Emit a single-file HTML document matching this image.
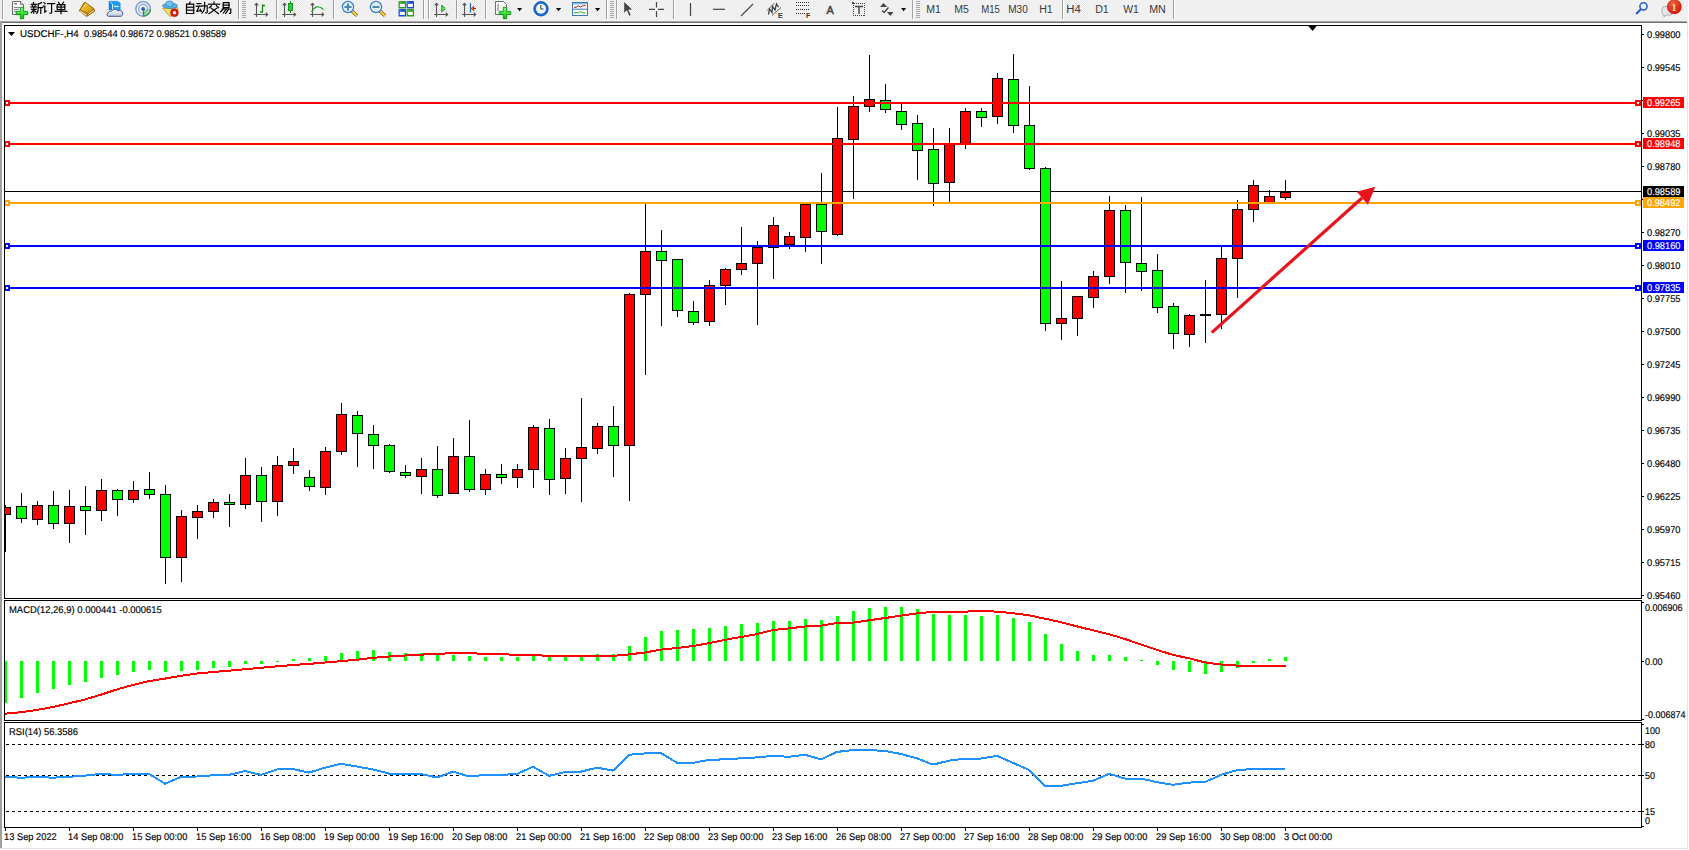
<!DOCTYPE html>
<html><head><meta charset="utf-8"><title>MT4 USDCHF H4</title>
<style>html,body{margin:0;padding:0;background:#fff;overflow:hidden}svg{display:block}</style>
</head><body>
<svg width="1689" height="850" viewBox="0 0 1689 850" shape-rendering="crispEdges">
<defs>
<clipPath id="cMain"><rect x="5" y="26" width="1636" height="572"/></clipPath>
<clipPath id="cMacd"><rect x="5" y="601" width="1636" height="119"/></clipPath>
<clipPath id="cRsi"><rect x="5" y="723" width="1636" height="104"/></clipPath>
</defs>
<rect x="0" y="0" width="1689" height="850" fill="#ffffff"/>
<rect x="0" y="0" width="1688" height="21" fill="#f0f0f0"/>
<rect x="0" y="21" width="1688" height="1" fill="#a8a8a8"/>
<rect x="0" y="22" width="1688" height="1" fill="#6e6e6e"/>
<rect x="0" y="21" width="2" height="828" fill="#a0a0a0"/>
<rect x="1687" y="21" width="1" height="828" fill="#e3e3e3"/>
<rect x="0" y="848" width="1688" height="1" fill="#e3e3e3"/>
<rect x="4" y="25" width="1638" height="1" fill="#000"/>
<rect x="4" y="598" width="1638" height="1" fill="#000"/>
<rect x="4" y="25" width="1" height="574" fill="#000"/>
<rect x="1641" y="25" width="1" height="574" fill="#000"/>
<rect x="4" y="600" width="1638" height="1" fill="#000"/>
<rect x="4" y="720" width="1638" height="1" fill="#000"/>
<rect x="4" y="600" width="1" height="121" fill="#000"/>
<rect x="1641" y="600" width="1" height="121" fill="#000"/>
<rect x="4" y="722" width="1638" height="1" fill="#000"/>
<rect x="4" y="827" width="1638" height="1" fill="#000"/>
<rect x="4" y="722" width="1" height="106" fill="#000"/>
<rect x="1641" y="722" width="1" height="106" fill="#000"/>
<g clip-path="url(#cMain)">
<rect x="5" y="191" width="1636" height="1" fill="#000"/>
<rect x="5" y="505" width="1" height="47" fill="#000"/>
<rect x="0" y="507" width="11" height="8" fill="#000"/>
<rect x="1" y="508" width="9" height="6" fill="#ff0000"/>
<rect x="21" y="493" width="1" height="30" fill="#000"/>
<rect x="16" y="506" width="11" height="13" fill="#000"/>
<rect x="17" y="507" width="9" height="11" fill="#00ff00"/>
<rect x="37" y="501" width="1" height="24" fill="#000"/>
<rect x="32" y="505" width="11" height="15" fill="#000"/>
<rect x="33" y="506" width="9" height="13" fill="#ff0000"/>
<rect x="53" y="491" width="1" height="38" fill="#000"/>
<rect x="48" y="505" width="11" height="19" fill="#000"/>
<rect x="49" y="506" width="9" height="17" fill="#00ff00"/>
<rect x="69" y="490" width="1" height="53" fill="#000"/>
<rect x="64" y="506" width="11" height="18" fill="#000"/>
<rect x="65" y="507" width="9" height="16" fill="#ff0000"/>
<rect x="85" y="486" width="1" height="49" fill="#000"/>
<rect x="80" y="506" width="11" height="5" fill="#000"/>
<rect x="81" y="507" width="9" height="3" fill="#00ff00"/>
<rect x="101" y="479" width="1" height="42" fill="#000"/>
<rect x="96" y="490" width="11" height="21" fill="#000"/>
<rect x="97" y="491" width="9" height="19" fill="#ff0000"/>
<rect x="117" y="489" width="1" height="27" fill="#000"/>
<rect x="112" y="490" width="11" height="10" fill="#000"/>
<rect x="113" y="491" width="9" height="8" fill="#00ff00"/>
<rect x="133" y="481" width="1" height="22" fill="#000"/>
<rect x="128" y="490" width="11" height="10" fill="#000"/>
<rect x="129" y="491" width="9" height="8" fill="#ff0000"/>
<rect x="149" y="472" width="1" height="27" fill="#000"/>
<rect x="144" y="489" width="11" height="6" fill="#000"/>
<rect x="145" y="490" width="9" height="4" fill="#00ff00"/>
<rect x="165" y="485" width="1" height="99" fill="#000"/>
<rect x="160" y="494" width="11" height="64" fill="#000"/>
<rect x="161" y="495" width="9" height="62" fill="#00ff00"/>
<rect x="181" y="510" width="1" height="72" fill="#000"/>
<rect x="176" y="516" width="11" height="42" fill="#000"/>
<rect x="177" y="517" width="9" height="40" fill="#ff0000"/>
<rect x="197" y="505" width="1" height="34" fill="#000"/>
<rect x="192" y="511" width="11" height="7" fill="#000"/>
<rect x="193" y="512" width="9" height="5" fill="#ff0000"/>
<rect x="213" y="499" width="1" height="19" fill="#000"/>
<rect x="208" y="502" width="11" height="10" fill="#000"/>
<rect x="209" y="503" width="9" height="8" fill="#ff0000"/>
<rect x="229" y="494" width="1" height="33" fill="#000"/>
<rect x="224" y="502" width="11" height="3" fill="#000"/>
<rect x="225" y="503" width="9" height="1" fill="#00ff00"/>
<rect x="245" y="458" width="1" height="51" fill="#000"/>
<rect x="240" y="475" width="11" height="30" fill="#000"/>
<rect x="241" y="476" width="9" height="28" fill="#ff0000"/>
<rect x="261" y="467" width="1" height="55" fill="#000"/>
<rect x="256" y="475" width="11" height="27" fill="#000"/>
<rect x="257" y="476" width="9" height="25" fill="#00ff00"/>
<rect x="277" y="456" width="1" height="60" fill="#000"/>
<rect x="272" y="465" width="11" height="37" fill="#000"/>
<rect x="273" y="466" width="9" height="35" fill="#ff0000"/>
<rect x="293" y="448" width="1" height="26" fill="#000"/>
<rect x="288" y="461" width="11" height="5" fill="#000"/>
<rect x="289" y="462" width="9" height="3" fill="#ff0000"/>
<rect x="309" y="470" width="1" height="21" fill="#000"/>
<rect x="304" y="477" width="11" height="10" fill="#000"/>
<rect x="305" y="478" width="9" height="8" fill="#00ff00"/>
<rect x="325" y="447" width="1" height="48" fill="#000"/>
<rect x="320" y="451" width="11" height="37" fill="#000"/>
<rect x="321" y="452" width="9" height="35" fill="#ff0000"/>
<rect x="341" y="403" width="1" height="52" fill="#000"/>
<rect x="336" y="414" width="11" height="38" fill="#000"/>
<rect x="337" y="415" width="9" height="36" fill="#ff0000"/>
<rect x="357" y="411" width="1" height="56" fill="#000"/>
<rect x="352" y="415" width="11" height="19" fill="#000"/>
<rect x="353" y="416" width="9" height="17" fill="#00ff00"/>
<rect x="373" y="425" width="1" height="44" fill="#000"/>
<rect x="368" y="434" width="11" height="12" fill="#000"/>
<rect x="369" y="435" width="9" height="10" fill="#00ff00"/>
<rect x="389" y="444" width="1" height="29" fill="#000"/>
<rect x="384" y="445" width="11" height="27" fill="#000"/>
<rect x="385" y="446" width="9" height="25" fill="#00ff00"/>
<rect x="405" y="465" width="1" height="13" fill="#000"/>
<rect x="400" y="472" width="11" height="4" fill="#000"/>
<rect x="401" y="473" width="9" height="2" fill="#00ff00"/>
<rect x="421" y="458" width="1" height="36" fill="#000"/>
<rect x="416" y="469" width="11" height="8" fill="#000"/>
<rect x="417" y="470" width="9" height="6" fill="#ff0000"/>
<rect x="437" y="446" width="1" height="52" fill="#000"/>
<rect x="432" y="469" width="11" height="27" fill="#000"/>
<rect x="433" y="470" width="9" height="25" fill="#00ff00"/>
<rect x="453" y="438" width="1" height="56" fill="#000"/>
<rect x="448" y="456" width="11" height="38" fill="#000"/>
<rect x="449" y="457" width="9" height="36" fill="#ff0000"/>
<rect x="469" y="420" width="1" height="72" fill="#000"/>
<rect x="464" y="456" width="11" height="34" fill="#000"/>
<rect x="465" y="457" width="9" height="32" fill="#00ff00"/>
<rect x="485" y="469" width="1" height="26" fill="#000"/>
<rect x="480" y="474" width="11" height="16" fill="#000"/>
<rect x="481" y="475" width="9" height="14" fill="#ff0000"/>
<rect x="501" y="464" width="1" height="20" fill="#000"/>
<rect x="496" y="474" width="11" height="4" fill="#000"/>
<rect x="497" y="475" width="9" height="2" fill="#00ff00"/>
<rect x="517" y="464" width="1" height="24" fill="#000"/>
<rect x="512" y="469" width="11" height="9" fill="#000"/>
<rect x="513" y="470" width="9" height="7" fill="#ff0000"/>
<rect x="533" y="425" width="1" height="63" fill="#000"/>
<rect x="528" y="427" width="11" height="43" fill="#000"/>
<rect x="529" y="428" width="9" height="41" fill="#ff0000"/>
<rect x="549" y="419" width="1" height="76" fill="#000"/>
<rect x="544" y="428" width="11" height="52" fill="#000"/>
<rect x="545" y="429" width="9" height="50" fill="#00ff00"/>
<rect x="565" y="448" width="1" height="46" fill="#000"/>
<rect x="560" y="458" width="11" height="21" fill="#000"/>
<rect x="561" y="459" width="9" height="19" fill="#ff0000"/>
<rect x="581" y="398" width="1" height="104" fill="#000"/>
<rect x="576" y="447" width="11" height="12" fill="#000"/>
<rect x="577" y="448" width="9" height="10" fill="#ff0000"/>
<rect x="597" y="423" width="1" height="31" fill="#000"/>
<rect x="592" y="426" width="11" height="23" fill="#000"/>
<rect x="593" y="427" width="9" height="21" fill="#ff0000"/>
<rect x="613" y="406" width="1" height="71" fill="#000"/>
<rect x="608" y="426" width="11" height="20" fill="#000"/>
<rect x="609" y="427" width="9" height="18" fill="#00ff00"/>
<rect x="629" y="293" width="1" height="208" fill="#000"/>
<rect x="624" y="294" width="11" height="152" fill="#000"/>
<rect x="625" y="295" width="9" height="150" fill="#ff0000"/>
<rect x="645" y="204" width="1" height="171" fill="#000"/>
<rect x="640" y="251" width="11" height="44" fill="#000"/>
<rect x="641" y="252" width="9" height="42" fill="#ff0000"/>
<rect x="661" y="230" width="1" height="96" fill="#000"/>
<rect x="656" y="251" width="11" height="10" fill="#000"/>
<rect x="657" y="252" width="9" height="8" fill="#00ff00"/>
<rect x="677" y="259" width="1" height="58" fill="#000"/>
<rect x="672" y="259" width="11" height="52" fill="#000"/>
<rect x="673" y="260" width="9" height="50" fill="#00ff00"/>
<rect x="693" y="301" width="1" height="24" fill="#000"/>
<rect x="688" y="311" width="11" height="12" fill="#000"/>
<rect x="689" y="312" width="9" height="10" fill="#00ff00"/>
<rect x="709" y="280" width="1" height="46" fill="#000"/>
<rect x="704" y="285" width="11" height="37" fill="#000"/>
<rect x="705" y="286" width="9" height="35" fill="#ff0000"/>
<rect x="725" y="268" width="1" height="37" fill="#000"/>
<rect x="720" y="269" width="11" height="17" fill="#000"/>
<rect x="721" y="270" width="9" height="15" fill="#ff0000"/>
<rect x="741" y="227" width="1" height="48" fill="#000"/>
<rect x="736" y="263" width="11" height="7" fill="#000"/>
<rect x="737" y="264" width="9" height="5" fill="#ff0000"/>
<rect x="757" y="241" width="1" height="84" fill="#000"/>
<rect x="752" y="247" width="11" height="17" fill="#000"/>
<rect x="753" y="248" width="9" height="15" fill="#ff0000"/>
<rect x="773" y="217" width="1" height="62" fill="#000"/>
<rect x="768" y="225" width="11" height="23" fill="#000"/>
<rect x="769" y="226" width="9" height="21" fill="#ff0000"/>
<rect x="789" y="232" width="1" height="17" fill="#000"/>
<rect x="784" y="236" width="11" height="9" fill="#000"/>
<rect x="785" y="237" width="9" height="7" fill="#ff0000"/>
<rect x="805" y="204" width="1" height="48" fill="#000"/>
<rect x="800" y="204" width="11" height="34" fill="#000"/>
<rect x="801" y="205" width="9" height="32" fill="#ff0000"/>
<rect x="821" y="173" width="1" height="91" fill="#000"/>
<rect x="816" y="204" width="11" height="28" fill="#000"/>
<rect x="817" y="205" width="9" height="26" fill="#00ff00"/>
<rect x="837" y="107" width="1" height="129" fill="#000"/>
<rect x="832" y="138" width="11" height="97" fill="#000"/>
<rect x="833" y="139" width="9" height="95" fill="#ff0000"/>
<rect x="853" y="96" width="1" height="103" fill="#000"/>
<rect x="848" y="106" width="11" height="34" fill="#000"/>
<rect x="849" y="107" width="9" height="32" fill="#ff0000"/>
<rect x="869" y="55" width="1" height="57" fill="#000"/>
<rect x="864" y="99" width="11" height="8" fill="#000"/>
<rect x="865" y="100" width="9" height="6" fill="#ff0000"/>
<rect x="885" y="84" width="1" height="29" fill="#000"/>
<rect x="880" y="100" width="11" height="10" fill="#000"/>
<rect x="881" y="101" width="9" height="8" fill="#00ff00"/>
<rect x="901" y="104" width="1" height="26" fill="#000"/>
<rect x="896" y="111" width="11" height="14" fill="#000"/>
<rect x="897" y="112" width="9" height="12" fill="#00ff00"/>
<rect x="917" y="115" width="1" height="65" fill="#000"/>
<rect x="912" y="123" width="11" height="28" fill="#000"/>
<rect x="913" y="124" width="9" height="26" fill="#00ff00"/>
<rect x="933" y="128" width="1" height="78" fill="#000"/>
<rect x="928" y="149" width="11" height="35" fill="#000"/>
<rect x="929" y="150" width="9" height="33" fill="#00ff00"/>
<rect x="949" y="128" width="1" height="75" fill="#000"/>
<rect x="944" y="144" width="11" height="39" fill="#000"/>
<rect x="945" y="145" width="9" height="37" fill="#ff0000"/>
<rect x="965" y="108" width="1" height="41" fill="#000"/>
<rect x="960" y="111" width="11" height="33" fill="#000"/>
<rect x="961" y="112" width="9" height="31" fill="#ff0000"/>
<rect x="981" y="108" width="1" height="19" fill="#000"/>
<rect x="976" y="111" width="11" height="7" fill="#000"/>
<rect x="977" y="112" width="9" height="5" fill="#00ff00"/>
<rect x="997" y="73" width="1" height="51" fill="#000"/>
<rect x="992" y="78" width="11" height="39" fill="#000"/>
<rect x="993" y="79" width="9" height="37" fill="#ff0000"/>
<rect x="1013" y="54" width="1" height="79" fill="#000"/>
<rect x="1008" y="79" width="11" height="47" fill="#000"/>
<rect x="1009" y="80" width="9" height="45" fill="#00ff00"/>
<rect x="1029" y="86" width="1" height="84" fill="#000"/>
<rect x="1024" y="125" width="11" height="44" fill="#000"/>
<rect x="1025" y="126" width="9" height="42" fill="#00ff00"/>
<rect x="1045" y="167" width="1" height="164" fill="#000"/>
<rect x="1040" y="168" width="11" height="156" fill="#000"/>
<rect x="1041" y="169" width="9" height="154" fill="#00ff00"/>
<rect x="1061" y="281" width="1" height="59" fill="#000"/>
<rect x="1056" y="318" width="11" height="6" fill="#000"/>
<rect x="1057" y="319" width="9" height="4" fill="#ff0000"/>
<rect x="1077" y="296" width="1" height="40" fill="#000"/>
<rect x="1072" y="296" width="11" height="23" fill="#000"/>
<rect x="1073" y="297" width="9" height="21" fill="#ff0000"/>
<rect x="1093" y="271" width="1" height="37" fill="#000"/>
<rect x="1088" y="276" width="11" height="22" fill="#000"/>
<rect x="1089" y="277" width="9" height="20" fill="#ff0000"/>
<rect x="1109" y="196" width="1" height="88" fill="#000"/>
<rect x="1104" y="210" width="11" height="67" fill="#000"/>
<rect x="1105" y="211" width="9" height="65" fill="#ff0000"/>
<rect x="1125" y="205" width="1" height="88" fill="#000"/>
<rect x="1120" y="210" width="11" height="53" fill="#000"/>
<rect x="1121" y="211" width="9" height="51" fill="#00ff00"/>
<rect x="1141" y="197" width="1" height="94" fill="#000"/>
<rect x="1136" y="263" width="11" height="9" fill="#000"/>
<rect x="1137" y="264" width="9" height="7" fill="#00ff00"/>
<rect x="1157" y="254" width="1" height="59" fill="#000"/>
<rect x="1152" y="270" width="11" height="38" fill="#000"/>
<rect x="1153" y="271" width="9" height="36" fill="#00ff00"/>
<rect x="1173" y="303" width="1" height="46" fill="#000"/>
<rect x="1168" y="306" width="11" height="28" fill="#000"/>
<rect x="1169" y="307" width="9" height="26" fill="#00ff00"/>
<rect x="1189" y="314" width="1" height="33" fill="#000"/>
<rect x="1184" y="315" width="11" height="20" fill="#000"/>
<rect x="1185" y="316" width="9" height="18" fill="#ff0000"/>
<rect x="1205" y="280" width="1" height="63" fill="#000"/>
<rect x="1200" y="314" width="11" height="2" fill="#000"/>
<rect x="1221" y="247" width="1" height="82" fill="#000"/>
<rect x="1216" y="258" width="11" height="57" fill="#000"/>
<rect x="1217" y="259" width="9" height="55" fill="#ff0000"/>
<rect x="1237" y="200" width="1" height="98" fill="#000"/>
<rect x="1232" y="209" width="11" height="50" fill="#000"/>
<rect x="1233" y="210" width="9" height="48" fill="#ff0000"/>
<rect x="1253" y="180" width="1" height="42" fill="#000"/>
<rect x="1248" y="185" width="11" height="25" fill="#000"/>
<rect x="1249" y="186" width="9" height="23" fill="#ff0000"/>
<rect x="1269" y="190" width="1" height="13" fill="#000"/>
<rect x="1264" y="196" width="11" height="7" fill="#000"/>
<rect x="1265" y="197" width="9" height="5" fill="#ff0000"/>
<rect x="1285" y="180" width="1" height="20" fill="#000"/>
<rect x="1280" y="192" width="11" height="6" fill="#000"/>
<rect x="1281" y="193" width="9" height="4" fill="#ff0000"/>
<rect x="5" y="102" width="1636" height="2" fill="#ff0000"/>
<rect x="4" y="100" width="6" height="6" fill="#ff0000"/>
<rect x="6" y="102" width="2" height="2" fill="#fff"/>
<rect x="1635" y="100" width="6" height="6" fill="#ff0000"/>
<rect x="1637" y="102" width="2" height="2" fill="#fff"/>
<rect x="5" y="143" width="1636" height="2" fill="#ff0000"/>
<rect x="4" y="141" width="6" height="6" fill="#ff0000"/>
<rect x="6" y="143" width="2" height="2" fill="#fff"/>
<rect x="1635" y="141" width="6" height="6" fill="#ff0000"/>
<rect x="1637" y="143" width="2" height="2" fill="#fff"/>
<rect x="5" y="202" width="1636" height="2" fill="#ffa500"/>
<rect x="4" y="200" width="6" height="6" fill="#ffa500"/>
<rect x="6" y="202" width="2" height="2" fill="#fff"/>
<rect x="1635" y="200" width="6" height="6" fill="#ffa500"/>
<rect x="1637" y="202" width="2" height="2" fill="#fff"/>
<rect x="5" y="245" width="1636" height="2" fill="#0000ff"/>
<rect x="4" y="243" width="6" height="6" fill="#0000ff"/>
<rect x="6" y="245" width="2" height="2" fill="#fff"/>
<rect x="1635" y="243" width="6" height="6" fill="#0000ff"/>
<rect x="1637" y="245" width="2" height="2" fill="#fff"/>
<rect x="5" y="287" width="1636" height="2" fill="#0000ff"/>
<rect x="4" y="285" width="6" height="6" fill="#0000ff"/>
<rect x="6" y="287" width="2" height="2" fill="#fff"/>
<rect x="1635" y="285" width="6" height="6" fill="#0000ff"/>
<rect x="1637" y="287" width="2" height="2" fill="#fff"/>
<g shape-rendering="geometricPrecision">
<line x1="1211.7" y1="332.6" x2="1362" y2="198" stroke="#e8141c" stroke-width="3.2" stroke-linecap="butt"/>
<polygon points="1375.3,186.8 1356.8,191.8 1367.9,204.7" fill="#e8141c"/>
</g>
</g>
<polygon points="1307.5,25 1317.5,25 1312.5,31" fill="#000" shape-rendering="geometricPrecision"/>
<polygon points="8,32 15,32 11.5,36" fill="#000" shape-rendering="geometricPrecision"/>
<text transform="translate(20,37) scale(0.9898,1)" text-rendering="geometricPrecision" font-family="Liberation Sans, sans-serif" font-size="9.8" fill="#000" stroke="#000" stroke-width="0.15" >USDCHF-,H4</text>
<text transform="translate(84,37) scale(0.949,1)" text-rendering="geometricPrecision" font-family="Liberation Sans, sans-serif" font-size="9.8" fill="#000" stroke="#000" stroke-width="0.15" >0.98544 0.98672 0.98521 0.98589</text>
<rect x="1642" y="34" width="2" height="1" fill="#000"/>
<text transform="translate(1647,38) scale(0.9439,1)" text-rendering="geometricPrecision" font-family="Liberation Sans, sans-serif" font-size="9.8" fill="#000" stroke="#000" stroke-width="0.15" >0.99800</text>
<rect x="1642" y="67" width="2" height="1" fill="#000"/>
<text transform="translate(1647,71) scale(0.9439,1)" text-rendering="geometricPrecision" font-family="Liberation Sans, sans-serif" font-size="9.8" fill="#000" stroke="#000" stroke-width="0.15" >0.99545</text>
<rect x="1642" y="100" width="2" height="1" fill="#000"/>
<rect x="1642" y="133" width="2" height="1" fill="#000"/>
<text transform="translate(1647,137) scale(0.9439,1)" text-rendering="geometricPrecision" font-family="Liberation Sans, sans-serif" font-size="9.8" fill="#000" stroke="#000" stroke-width="0.15" >0.99035</text>
<rect x="1642" y="166" width="2" height="1" fill="#000"/>
<text transform="translate(1647,170) scale(0.9439,1)" text-rendering="geometricPrecision" font-family="Liberation Sans, sans-serif" font-size="9.8" fill="#000" stroke="#000" stroke-width="0.15" >0.98780</text>
<rect x="1642" y="199" width="2" height="1" fill="#000"/>
<rect x="1642" y="232" width="2" height="1" fill="#000"/>
<text transform="translate(1647,236) scale(0.9439,1)" text-rendering="geometricPrecision" font-family="Liberation Sans, sans-serif" font-size="9.8" fill="#000" stroke="#000" stroke-width="0.15" >0.98270</text>
<rect x="1642" y="265" width="2" height="1" fill="#000"/>
<text transform="translate(1647,269) scale(0.9439,1)" text-rendering="geometricPrecision" font-family="Liberation Sans, sans-serif" font-size="9.8" fill="#000" stroke="#000" stroke-width="0.15" >0.98010</text>
<rect x="1642" y="298" width="2" height="1" fill="#000"/>
<text transform="translate(1647,302) scale(0.9439,1)" text-rendering="geometricPrecision" font-family="Liberation Sans, sans-serif" font-size="9.8" fill="#000" stroke="#000" stroke-width="0.15" >0.97755</text>
<rect x="1642" y="331" width="2" height="1" fill="#000"/>
<text transform="translate(1647,335) scale(0.9439,1)" text-rendering="geometricPrecision" font-family="Liberation Sans, sans-serif" font-size="9.8" fill="#000" stroke="#000" stroke-width="0.15" >0.97500</text>
<rect x="1642" y="364" width="2" height="1" fill="#000"/>
<text transform="translate(1647,368) scale(0.9439,1)" text-rendering="geometricPrecision" font-family="Liberation Sans, sans-serif" font-size="9.8" fill="#000" stroke="#000" stroke-width="0.15" >0.97245</text>
<rect x="1642" y="397" width="2" height="1" fill="#000"/>
<text transform="translate(1647,401) scale(0.9439,1)" text-rendering="geometricPrecision" font-family="Liberation Sans, sans-serif" font-size="9.8" fill="#000" stroke="#000" stroke-width="0.15" >0.96990</text>
<rect x="1642" y="430" width="2" height="1" fill="#000"/>
<text transform="translate(1647,434) scale(0.9439,1)" text-rendering="geometricPrecision" font-family="Liberation Sans, sans-serif" font-size="9.8" fill="#000" stroke="#000" stroke-width="0.15" >0.96735</text>
<rect x="1642" y="463" width="2" height="1" fill="#000"/>
<text transform="translate(1647,467) scale(0.9439,1)" text-rendering="geometricPrecision" font-family="Liberation Sans, sans-serif" font-size="9.8" fill="#000" stroke="#000" stroke-width="0.15" >0.96480</text>
<rect x="1642" y="496" width="2" height="1" fill="#000"/>
<text transform="translate(1647,500) scale(0.9439,1)" text-rendering="geometricPrecision" font-family="Liberation Sans, sans-serif" font-size="9.8" fill="#000" stroke="#000" stroke-width="0.15" >0.96225</text>
<rect x="1642" y="529" width="2" height="1" fill="#000"/>
<text transform="translate(1647,533) scale(0.9439,1)" text-rendering="geometricPrecision" font-family="Liberation Sans, sans-serif" font-size="9.8" fill="#000" stroke="#000" stroke-width="0.15" >0.95970</text>
<rect x="1642" y="562" width="2" height="1" fill="#000"/>
<text transform="translate(1647,566) scale(0.9439,1)" text-rendering="geometricPrecision" font-family="Liberation Sans, sans-serif" font-size="9.8" fill="#000" stroke="#000" stroke-width="0.15" >0.95715</text>
<rect x="1642" y="595" width="2" height="1" fill="#000"/>
<text transform="translate(1647,599) scale(0.9439,1)" text-rendering="geometricPrecision" font-family="Liberation Sans, sans-serif" font-size="9.8" fill="#000" stroke="#000" stroke-width="0.15" >0.95460</text>
<rect x="1643" y="97" width="41" height="11" fill="#ff0000"/>
<text transform="translate(1647,106) scale(0.9439,1)" text-rendering="geometricPrecision" font-family="Liberation Sans, sans-serif" font-size="9.8" fill="#fff" stroke="#fff" stroke-width="0.15" >0.99265</text>
<rect x="1643" y="138" width="41" height="11" fill="#ff0000"/>
<text transform="translate(1647,147) scale(0.9439,1)" text-rendering="geometricPrecision" font-family="Liberation Sans, sans-serif" font-size="9.8" fill="#fff" stroke="#fff" stroke-width="0.15" >0.98948</text>
<rect x="1643" y="186" width="41" height="11" fill="#000000"/>
<text transform="translate(1647,195) scale(0.9439,1)" text-rendering="geometricPrecision" font-family="Liberation Sans, sans-serif" font-size="9.8" fill="#fff" stroke="#fff" stroke-width="0.15" >0.98589</text>
<rect x="1643" y="197" width="41" height="11" fill="#ffa500"/>
<text transform="translate(1647,206) scale(0.9439,1)" text-rendering="geometricPrecision" font-family="Liberation Sans, sans-serif" font-size="9.8" fill="#fff" stroke="#fff" stroke-width="0.15" >0.98492</text>
<rect x="1643" y="240" width="41" height="11" fill="#0000ff"/>
<text transform="translate(1647,249) scale(0.9439,1)" text-rendering="geometricPrecision" font-family="Liberation Sans, sans-serif" font-size="9.8" fill="#fff" stroke="#fff" stroke-width="0.15" >0.98160</text>
<rect x="1643" y="282" width="41" height="11" fill="#0000ff"/>
<text transform="translate(1647,291) scale(0.9439,1)" text-rendering="geometricPrecision" font-family="Liberation Sans, sans-serif" font-size="9.8" fill="#fff" stroke="#fff" stroke-width="0.15" >0.97835</text>
<g clip-path="url(#cMacd)">
<rect x="4" y="661" width="3" height="42" fill="#00ff00"/>
<rect x="20" y="661" width="3" height="37" fill="#00ff00"/>
<rect x="36" y="661" width="3" height="32" fill="#00ff00"/>
<rect x="52" y="661" width="3" height="28" fill="#00ff00"/>
<rect x="68" y="661" width="3" height="24" fill="#00ff00"/>
<rect x="84" y="661" width="3" height="21" fill="#00ff00"/>
<rect x="100" y="661" width="3" height="17" fill="#00ff00"/>
<rect x="116" y="661" width="3" height="14" fill="#00ff00"/>
<rect x="132" y="661" width="3" height="11" fill="#00ff00"/>
<rect x="148" y="661" width="3" height="9" fill="#00ff00"/>
<rect x="164" y="661" width="3" height="11" fill="#00ff00"/>
<rect x="180" y="661" width="3" height="10" fill="#00ff00"/>
<rect x="196" y="661" width="3" height="9" fill="#00ff00"/>
<rect x="212" y="661" width="3" height="7" fill="#00ff00"/>
<rect x="228" y="661" width="3" height="6" fill="#00ff00"/>
<rect x="244" y="661" width="3" height="3" fill="#00ff00"/>
<rect x="260" y="661" width="3" height="3" fill="#00ff00"/>
<rect x="276" y="661" width="3" height="1" fill="#00ff00"/>
<rect x="292" y="659" width="3" height="2" fill="#00ff00"/>
<rect x="308" y="658" width="3" height="3" fill="#00ff00"/>
<rect x="324" y="656" width="3" height="5" fill="#00ff00"/>
<rect x="340" y="653" width="3" height="8" fill="#00ff00"/>
<rect x="356" y="651" width="3" height="10" fill="#00ff00"/>
<rect x="372" y="650" width="3" height="11" fill="#00ff00"/>
<rect x="388" y="652" width="3" height="9" fill="#00ff00"/>
<rect x="404" y="653" width="3" height="8" fill="#00ff00"/>
<rect x="420" y="653" width="3" height="8" fill="#00ff00"/>
<rect x="436" y="655" width="3" height="6" fill="#00ff00"/>
<rect x="452" y="655" width="3" height="6" fill="#00ff00"/>
<rect x="468" y="656" width="3" height="5" fill="#00ff00"/>
<rect x="484" y="657" width="3" height="4" fill="#00ff00"/>
<rect x="500" y="657" width="3" height="4" fill="#00ff00"/>
<rect x="516" y="657" width="3" height="4" fill="#00ff00"/>
<rect x="532" y="655" width="3" height="6" fill="#00ff00"/>
<rect x="548" y="656" width="3" height="5" fill="#00ff00"/>
<rect x="564" y="656" width="3" height="5" fill="#00ff00"/>
<rect x="580" y="656" width="3" height="5" fill="#00ff00"/>
<rect x="596" y="654" width="3" height="7" fill="#00ff00"/>
<rect x="612" y="654" width="3" height="7" fill="#00ff00"/>
<rect x="628" y="646" width="3" height="15" fill="#00ff00"/>
<rect x="644" y="637" width="3" height="24" fill="#00ff00"/>
<rect x="660" y="631" width="3" height="30" fill="#00ff00"/>
<rect x="676" y="630" width="3" height="31" fill="#00ff00"/>
<rect x="692" y="629" width="3" height="32" fill="#00ff00"/>
<rect x="708" y="628" width="3" height="33" fill="#00ff00"/>
<rect x="724" y="626" width="3" height="35" fill="#00ff00"/>
<rect x="740" y="624" width="3" height="37" fill="#00ff00"/>
<rect x="756" y="623" width="3" height="38" fill="#00ff00"/>
<rect x="772" y="621" width="3" height="40" fill="#00ff00"/>
<rect x="788" y="621" width="3" height="40" fill="#00ff00"/>
<rect x="804" y="619" width="3" height="42" fill="#00ff00"/>
<rect x="820" y="620" width="3" height="41" fill="#00ff00"/>
<rect x="836" y="616" width="3" height="45" fill="#00ff00"/>
<rect x="852" y="611" width="3" height="50" fill="#00ff00"/>
<rect x="868" y="608" width="3" height="53" fill="#00ff00"/>
<rect x="884" y="607" width="3" height="54" fill="#00ff00"/>
<rect x="900" y="607" width="3" height="54" fill="#00ff00"/>
<rect x="916" y="609" width="3" height="52" fill="#00ff00"/>
<rect x="932" y="614" width="3" height="47" fill="#00ff00"/>
<rect x="948" y="615" width="3" height="46" fill="#00ff00"/>
<rect x="964" y="615" width="3" height="46" fill="#00ff00"/>
<rect x="980" y="616" width="3" height="45" fill="#00ff00"/>
<rect x="996" y="615" width="3" height="46" fill="#00ff00"/>
<rect x="1012" y="618" width="3" height="43" fill="#00ff00"/>
<rect x="1028" y="622" width="3" height="39" fill="#00ff00"/>
<rect x="1044" y="634" width="3" height="27" fill="#00ff00"/>
<rect x="1060" y="644" width="3" height="17" fill="#00ff00"/>
<rect x="1076" y="651" width="3" height="10" fill="#00ff00"/>
<rect x="1092" y="655" width="3" height="6" fill="#00ff00"/>
<rect x="1108" y="655" width="3" height="6" fill="#00ff00"/>
<rect x="1124" y="657" width="3" height="4" fill="#00ff00"/>
<rect x="1140" y="660" width="3" height="1" fill="#00ff00"/>
<rect x="1156" y="661" width="3" height="4" fill="#00ff00"/>
<rect x="1172" y="661" width="3" height="9" fill="#00ff00"/>
<rect x="1188" y="661" width="3" height="11" fill="#00ff00"/>
<rect x="1204" y="661" width="3" height="13" fill="#00ff00"/>
<rect x="1220" y="661" width="3" height="11" fill="#00ff00"/>
<rect x="1236" y="661" width="3" height="7" fill="#00ff00"/>
<rect x="1252" y="661" width="3" height="2" fill="#00ff00"/>
<rect x="1268" y="659" width="3" height="2" fill="#00ff00"/>
<rect x="1284" y="657" width="3" height="4" fill="#00ff00"/>
<polyline points="5,713.7 21,712.2 37,709.9 53,707 69,703.3 85,699.5 101,694.7 117,689.4 133,684.9 149,681.1 165,678.6 181,675.8 197,673.5 213,672 229,670.7 245,669.2 261,667.8 277,666.3 293,665 309,663.9 325,662.5 341,661.2 357,659.7 373,657.8 389,656.5 405,655.5 421,654.6 437,654 453,653 469,653 485,654 501,654 517,655 533,655 549,655.9 565,655.9 581,655.9 597,655.9 613,655.9 629,654.4 645,652.5 661,649.6 677,648 693,646 709,643.2 725,639.8 741,637 757,634.1 773,630 789,628.4 805,626.5 821,625.6 837,623.1 853,622.7 869,620.3 885,618 901,615.7 917,613.3 933,611.9 949,611.9 965,611.7 981,610.8 997,611.7 1013,613.2 1029,615.3 1045,618.7 1061,622.2 1077,626.4 1093,630.3 1109,634.2 1125,639 1141,644.5 1157,649.8 1173,654.9 1189,658.3 1205,662.4 1221,664.5 1237,665.6 1253,666.1 1269,666.1 1286,666.1" fill="none" stroke="#ff0000" stroke-width="2" shape-rendering="crispEdges"/>
</g>
<text transform="translate(9,613) scale(0.9643,1)" text-rendering="geometricPrecision" font-family="Liberation Sans, sans-serif" font-size="9.8" fill="#000" stroke="#000" stroke-width="0.15" >MACD(12,26,9) 0.000441 -0.000615</text>
<rect x="1642" y="602" width="2" height="1" fill="#000"/>
<rect x="1642" y="661" width="2" height="1" fill="#000"/>
<rect x="1642" y="719" width="2" height="1" fill="#000"/>
<text transform="translate(1645,611) scale(0.9184,1)" text-rendering="geometricPrecision" font-family="Liberation Sans, sans-serif" font-size="9.8" fill="#000" stroke="#000" stroke-width="0.15" >0.006906</text>
<text transform="translate(1645,665) scale(0.9184,1)" text-rendering="geometricPrecision" font-family="Liberation Sans, sans-serif" font-size="9.8" fill="#000" stroke="#000" stroke-width="0.15" >0.00</text>
<text transform="translate(1645,718) scale(0.9184,1)" text-rendering="geometricPrecision" font-family="Liberation Sans, sans-serif" font-size="9.8" fill="#000" stroke="#000" stroke-width="0.15" >-0.006874</text>
<g clip-path="url(#cRsi)">
<line x1="6" y1="744.5" x2="1641" y2="744.5" stroke="#000" stroke-width="1" stroke-dasharray="3,3"/>
<line x1="6" y1="775.5" x2="1641" y2="775.5" stroke="#000" stroke-width="1" stroke-dasharray="3,3"/>
<line x1="6" y1="811.5" x2="1641" y2="811.5" stroke="#000" stroke-width="1" stroke-dasharray="3,3"/>
<polyline points="5,777 21,777.7 37,777 53,777.7 69,776.8 85,775.6 101,773.8 117,774.9 133,773.8 149,773.8 165,783.7 181,776.9 197,776.5 213,775.3 229,774.9 245,771 261,774.9 277,769.5 293,769.1 309,772.6 325,767.7 341,763.8 357,766.5 373,769.5 389,773.6 405,774 421,774 437,777.5 453,771.6 469,776.5 485,774.9 501,774.9 517,774 533,766.7 549,775.9 565,772 581,771.6 597,767.7 613,770.6 629,754.8 645,753.4 661,753.1 677,762.8 693,762.8 709,759.9 725,759.3 741,758.3 757,757.4 773,755.8 789,756.8 805,754.8 821,759.3 837,751.9 853,750.1 869,750.1 885,750.9 901,754 917,758.3 933,764.6 949,760.7 965,758.5 981,758.5 997,755.8 1013,762.9 1029,769.9 1045,785.9 1061,785.9 1077,783.2 1093,780.8 1109,773.8 1125,778.6 1141,778.6 1157,782.1 1173,784.8 1189,782.6 1205,781.9 1221,774.9 1237,770.1 1253,769 1269,769 1285,769" fill="none" stroke="#1e90ff" stroke-width="2" shape-rendering="crispEdges"/>
</g>
<text transform="translate(9,735) scale(0.9592,1)" text-rendering="geometricPrecision" font-family="Liberation Sans, sans-serif" font-size="9.8" fill="#000" stroke="#000" stroke-width="0.15" >RSI(14) 56.3586</text>
<rect x="1642" y="724" width="2" height="1" fill="#000"/>
<rect x="1642" y="744" width="2" height="1" fill="#000"/>
<rect x="1642" y="775" width="2" height="1" fill="#000"/>
<rect x="1642" y="811" width="2" height="1" fill="#000"/>
<rect x="1642" y="826" width="2" height="1" fill="#000"/>
<text transform="translate(1645,734) scale(0.9184,1)" text-rendering="geometricPrecision" font-family="Liberation Sans, sans-serif" font-size="9.8" fill="#000" stroke="#000" stroke-width="0.15" >100</text>
<text transform="translate(1645,748) scale(0.9184,1)" text-rendering="geometricPrecision" font-family="Liberation Sans, sans-serif" font-size="9.8" fill="#000" stroke="#000" stroke-width="0.15" >80</text>
<text transform="translate(1645,779) scale(0.9184,1)" text-rendering="geometricPrecision" font-family="Liberation Sans, sans-serif" font-size="9.8" fill="#000" stroke="#000" stroke-width="0.15" >50</text>
<text transform="translate(1645,815) scale(0.9184,1)" text-rendering="geometricPrecision" font-family="Liberation Sans, sans-serif" font-size="9.8" fill="#000" stroke="#000" stroke-width="0.15" >15</text>
<text transform="translate(1645,824) scale(0.9184,1)" text-rendering="geometricPrecision" font-family="Liberation Sans, sans-serif" font-size="9.8" fill="#000" stroke="#000" stroke-width="0.15" >0</text>
<rect x="5" y="828" width="1" height="3" fill="#000"/>
<text transform="translate(4,840) scale(0.949,1)" text-rendering="geometricPrecision" font-family="Liberation Sans, sans-serif" font-size="9.8" fill="#000" stroke="#000" stroke-width="0.15" >13 Sep 2022</text>
<rect x="69" y="828" width="1" height="3" fill="#000"/>
<text transform="translate(68,840) scale(0.949,1)" text-rendering="geometricPrecision" font-family="Liberation Sans, sans-serif" font-size="9.8" fill="#000" stroke="#000" stroke-width="0.15" >14 Sep 08:00</text>
<rect x="133" y="828" width="1" height="3" fill="#000"/>
<text transform="translate(132,840) scale(0.949,1)" text-rendering="geometricPrecision" font-family="Liberation Sans, sans-serif" font-size="9.8" fill="#000" stroke="#000" stroke-width="0.15" >15 Sep 00:00</text>
<rect x="197" y="828" width="1" height="3" fill="#000"/>
<text transform="translate(196,840) scale(0.949,1)" text-rendering="geometricPrecision" font-family="Liberation Sans, sans-serif" font-size="9.8" fill="#000" stroke="#000" stroke-width="0.15" >15 Sep 16:00</text>
<rect x="261" y="828" width="1" height="3" fill="#000"/>
<text transform="translate(260,840) scale(0.949,1)" text-rendering="geometricPrecision" font-family="Liberation Sans, sans-serif" font-size="9.8" fill="#000" stroke="#000" stroke-width="0.15" >16 Sep 08:00</text>
<rect x="325" y="828" width="1" height="3" fill="#000"/>
<text transform="translate(324,840) scale(0.949,1)" text-rendering="geometricPrecision" font-family="Liberation Sans, sans-serif" font-size="9.8" fill="#000" stroke="#000" stroke-width="0.15" >19 Sep 00:00</text>
<rect x="389" y="828" width="1" height="3" fill="#000"/>
<text transform="translate(388,840) scale(0.949,1)" text-rendering="geometricPrecision" font-family="Liberation Sans, sans-serif" font-size="9.8" fill="#000" stroke="#000" stroke-width="0.15" >19 Sep 16:00</text>
<rect x="453" y="828" width="1" height="3" fill="#000"/>
<text transform="translate(452,840) scale(0.949,1)" text-rendering="geometricPrecision" font-family="Liberation Sans, sans-serif" font-size="9.8" fill="#000" stroke="#000" stroke-width="0.15" >20 Sep 08:00</text>
<rect x="517" y="828" width="1" height="3" fill="#000"/>
<text transform="translate(516,840) scale(0.949,1)" text-rendering="geometricPrecision" font-family="Liberation Sans, sans-serif" font-size="9.8" fill="#000" stroke="#000" stroke-width="0.15" >21 Sep 00:00</text>
<rect x="581" y="828" width="1" height="3" fill="#000"/>
<text transform="translate(580,840) scale(0.949,1)" text-rendering="geometricPrecision" font-family="Liberation Sans, sans-serif" font-size="9.8" fill="#000" stroke="#000" stroke-width="0.15" >21 Sep 16:00</text>
<rect x="645" y="828" width="1" height="3" fill="#000"/>
<text transform="translate(644,840) scale(0.949,1)" text-rendering="geometricPrecision" font-family="Liberation Sans, sans-serif" font-size="9.8" fill="#000" stroke="#000" stroke-width="0.15" >22 Sep 08:00</text>
<rect x="709" y="828" width="1" height="3" fill="#000"/>
<text transform="translate(708,840) scale(0.949,1)" text-rendering="geometricPrecision" font-family="Liberation Sans, sans-serif" font-size="9.8" fill="#000" stroke="#000" stroke-width="0.15" >23 Sep 00:00</text>
<rect x="773" y="828" width="1" height="3" fill="#000"/>
<text transform="translate(772,840) scale(0.949,1)" text-rendering="geometricPrecision" font-family="Liberation Sans, sans-serif" font-size="9.8" fill="#000" stroke="#000" stroke-width="0.15" >23 Sep 16:00</text>
<rect x="837" y="828" width="1" height="3" fill="#000"/>
<text transform="translate(836,840) scale(0.949,1)" text-rendering="geometricPrecision" font-family="Liberation Sans, sans-serif" font-size="9.8" fill="#000" stroke="#000" stroke-width="0.15" >26 Sep 08:00</text>
<rect x="901" y="828" width="1" height="3" fill="#000"/>
<text transform="translate(900,840) scale(0.949,1)" text-rendering="geometricPrecision" font-family="Liberation Sans, sans-serif" font-size="9.8" fill="#000" stroke="#000" stroke-width="0.15" >27 Sep 00:00</text>
<rect x="965" y="828" width="1" height="3" fill="#000"/>
<text transform="translate(964,840) scale(0.949,1)" text-rendering="geometricPrecision" font-family="Liberation Sans, sans-serif" font-size="9.8" fill="#000" stroke="#000" stroke-width="0.15" >27 Sep 16:00</text>
<rect x="1029" y="828" width="1" height="3" fill="#000"/>
<text transform="translate(1028,840) scale(0.949,1)" text-rendering="geometricPrecision" font-family="Liberation Sans, sans-serif" font-size="9.8" fill="#000" stroke="#000" stroke-width="0.15" >28 Sep 08:00</text>
<rect x="1093" y="828" width="1" height="3" fill="#000"/>
<text transform="translate(1092,840) scale(0.949,1)" text-rendering="geometricPrecision" font-family="Liberation Sans, sans-serif" font-size="9.8" fill="#000" stroke="#000" stroke-width="0.15" >29 Sep 00:00</text>
<rect x="1157" y="828" width="1" height="3" fill="#000"/>
<text transform="translate(1156,840) scale(0.949,1)" text-rendering="geometricPrecision" font-family="Liberation Sans, sans-serif" font-size="9.8" fill="#000" stroke="#000" stroke-width="0.15" >29 Sep 16:00</text>
<rect x="1221" y="828" width="1" height="3" fill="#000"/>
<text transform="translate(1220,840) scale(0.949,1)" text-rendering="geometricPrecision" font-family="Liberation Sans, sans-serif" font-size="9.8" fill="#000" stroke="#000" stroke-width="0.15" >30 Sep 08:00</text>
<rect x="1285" y="828" width="1" height="3" fill="#000"/>
<text transform="translate(1284,840) scale(0.949,1)" text-rendering="geometricPrecision" font-family="Liberation Sans, sans-serif" font-size="9.8" fill="#000" stroke="#000" stroke-width="0.15" >3 Oct 00:00</text>
<defs><pattern id="chk" width="2" height="2" patternUnits="userSpaceOnUse"><rect width="2" height="2" fill="#f7f7f7"/><rect width="1" height="1" fill="#e6e6e6"/><rect x="1" y="1" width="1" height="1" fill="#e6e6e6"/></pattern><linearGradient id="gplus" x1="0" y1="0" x2="0" y2="1"><stop offset="0" stop-color="#7dff7d"/><stop offset="1" stop-color="#00c000"/></linearGradient><linearGradient id="gold" x1="0" y1="0" x2="1" y2="1"><stop offset="0" stop-color="#fff27a"/><stop offset="0.5" stop-color="#e2b21a"/><stop offset="1" stop-color="#c88a10"/></linearGradient><linearGradient id="cloud" x1="0" y1="0" x2="0" y2="1"><stop offset="0" stop-color="#ffffff"/><stop offset="1" stop-color="#b8c4d8"/></linearGradient><radialGradient id="badge" cx="0.4" cy="0.3" r="0.7"><stop offset="0" stop-color="#f06040"/><stop offset="1" stop-color="#d01808"/></radialGradient></defs>
<rect x="277" y="0" width="25" height="19" fill="url(#chk)"/>
<rect x="429" y="0" width="24" height="19" fill="url(#chk)"/>
<rect x="457" y="0" width="25" height="19" fill="url(#chk)"/>
<rect x="617" y="0" width="25" height="19" fill="url(#chk)"/>
<rect x="1063" y="0" width="25" height="19" fill="url(#chk)"/>
<rect x="2" y="0" width="1" height="19" fill="#a0a0a0"/>
<rect x="3" y="0" width="1" height="19" fill="#ffffff" opacity="0.8"/>
<rect x="238" y="0" width="1" height="19" fill="#a0a0a0"/>
<rect x="239" y="0" width="1" height="19" fill="#ffffff" opacity="0.8"/>
<rect x="276" y="0" width="1" height="19" fill="#a0a0a0"/>
<rect x="277" y="0" width="1" height="19" fill="#ffffff" opacity="0.8"/>
<rect x="333" y="0" width="1" height="19" fill="#a0a0a0"/>
<rect x="334" y="0" width="1" height="19" fill="#ffffff" opacity="0.8"/>
<rect x="423" y="0" width="1" height="19" fill="#a0a0a0"/>
<rect x="424" y="0" width="1" height="19" fill="#ffffff" opacity="0.8"/>
<rect x="428" y="0" width="1" height="19" fill="#a0a0a0"/>
<rect x="429" y="0" width="1" height="19" fill="#ffffff" opacity="0.8"/>
<rect x="456" y="0" width="1" height="19" fill="#a0a0a0"/>
<rect x="457" y="0" width="1" height="19" fill="#ffffff" opacity="0.8"/>
<rect x="485" y="0" width="1" height="19" fill="#a0a0a0"/>
<rect x="486" y="0" width="1" height="19" fill="#ffffff" opacity="0.8"/>
<rect x="606" y="0" width="1" height="19" fill="#a0a0a0"/>
<rect x="607" y="0" width="1" height="19" fill="#ffffff" opacity="0.8"/>
<rect x="616" y="0" width="1" height="19" fill="#a0a0a0"/>
<rect x="617" y="0" width="1" height="19" fill="#ffffff" opacity="0.8"/>
<rect x="673" y="0" width="1" height="19" fill="#a0a0a0"/>
<rect x="674" y="0" width="1" height="19" fill="#ffffff" opacity="0.8"/>
<rect x="912" y="0" width="1" height="19" fill="#a0a0a0"/>
<rect x="913" y="0" width="1" height="19" fill="#ffffff" opacity="0.8"/>
<rect x="1062" y="0" width="1" height="19" fill="#a0a0a0"/>
<rect x="1063" y="0" width="1" height="19" fill="#ffffff" opacity="0.8"/>
<rect x="1173" y="0" width="1" height="19" fill="#a0a0a0"/>
<rect x="1174" y="0" width="1" height="19" fill="#ffffff" opacity="0.8"/>
<rect x="242" y="1" width="4" height="1" fill="#a8a8a8"/>
<rect x="242" y="3" width="4" height="1" fill="#a8a8a8"/>
<rect x="242" y="5" width="4" height="1" fill="#a8a8a8"/>
<rect x="242" y="7" width="4" height="1" fill="#a8a8a8"/>
<rect x="242" y="9" width="4" height="1" fill="#a8a8a8"/>
<rect x="242" y="11" width="4" height="1" fill="#a8a8a8"/>
<rect x="242" y="13" width="4" height="1" fill="#a8a8a8"/>
<rect x="242" y="15" width="4" height="1" fill="#a8a8a8"/>
<rect x="242" y="17" width="4" height="1" fill="#a8a8a8"/>
<rect x="610" y="1" width="4" height="1" fill="#a8a8a8"/>
<rect x="610" y="3" width="4" height="1" fill="#a8a8a8"/>
<rect x="610" y="5" width="4" height="1" fill="#a8a8a8"/>
<rect x="610" y="7" width="4" height="1" fill="#a8a8a8"/>
<rect x="610" y="9" width="4" height="1" fill="#a8a8a8"/>
<rect x="610" y="11" width="4" height="1" fill="#a8a8a8"/>
<rect x="610" y="13" width="4" height="1" fill="#a8a8a8"/>
<rect x="610" y="15" width="4" height="1" fill="#a8a8a8"/>
<rect x="610" y="17" width="4" height="1" fill="#a8a8a8"/>
<rect x="916" y="1" width="4" height="1" fill="#a8a8a8"/>
<rect x="916" y="3" width="4" height="1" fill="#a8a8a8"/>
<rect x="916" y="5" width="4" height="1" fill="#a8a8a8"/>
<rect x="916" y="7" width="4" height="1" fill="#a8a8a8"/>
<rect x="916" y="9" width="4" height="1" fill="#a8a8a8"/>
<rect x="916" y="11" width="4" height="1" fill="#a8a8a8"/>
<rect x="916" y="13" width="4" height="1" fill="#a8a8a8"/>
<rect x="916" y="15" width="4" height="1" fill="#a8a8a8"/>
<rect x="916" y="17" width="4" height="1" fill="#a8a8a8"/>
<g shape-rendering="geometricPrecision">
<path d="M12.5,1.5 h8 l3,3 v10 h-11 z" fill="#fafafa" stroke="#6a6a6a" stroke-width="1"/>
<path d="M20.5,1.5 v3 h3" fill="#ddd" stroke="#6a6a6a" stroke-width="0.8"/>
<rect x="14" y="3" width="3" height="1.5" fill="#888"/>
<rect x="14" y="7" width="6" height="1" fill="#888"/><rect x="14" y="9" width="5" height="1" fill="#888"/><rect x="14" y="11" width="3" height="1" fill="#888"/>
<path d="M20.3,7.3 h3.4 v4.1 h4.1 v3.2 h-4.1 v4.1 h-3.4 v-4.1 h-4.1 v-3.2 h4.1 z" fill="url(#gplus)" stroke="#008a00" stroke-width="0.8"/>
<path d="M84.9,2.3 L93.8,8.6 L94.7,11.1 L86.6,16.5 L79.3,10.8 L83.8,3.2 Z" fill="#b07818" stroke="#8a5a08" stroke-width="0.9"/>
<path d="M85.2,3 L93.2,8.7 L88.3,13.2 L80.6,9.4 Z" fill="url(#gold)"/>
<path d="M80.2,11 L86.5,15.3" stroke="#f4e0a0" stroke-width="1.1"/>
<path d="M88.5,14.2 L94,10.4" stroke="#e8dca8" stroke-width="1"/>
<path d="M109,1.3 L117.5,1.3 L120.2,3 L120.2,10 L109,10 Z" fill="#1aa0f4" stroke="#1a78d8" stroke-width="0.5"/>
<rect x="109" y="2" width="3.5" height="8" fill="#0a88e8"/>
<path d="M110.3,2.1 L112.5,4 L112.5,10" stroke="#e8f6ff" stroke-width="0.9" fill="none"/>
<rect x="114" y="5.9" width="4.6" height="1.1" fill="#f0f8ff"/>
<path d="M108.3,16.3 C106.6,16.3 106.6,12.6 109,12.3 C109.4,11 110.8,10.9 111.5,11.3 C112.6,8.9 116.8,8.9 117.9,11 C119.5,9.8 122.6,10.6 122.6,13 C123,15.2 122,16.3 120.6,16.3 Z" fill="url(#cloud)" stroke="#46598a" stroke-width="1"/>
<path d="M143.1,8.9 L143.1,16.6 A7.7,7.7 0 0 0 150.8,8.9 Z" fill="#a8d8a8" opacity="0.8"/>
<circle cx="143.1" cy="8.9" r="7.3" fill="none" stroke="#4a78c8" stroke-width="1.3" opacity="0.75"/>
<circle cx="143.1" cy="8.9" r="4.5" fill="none" stroke="#5a88c8" stroke-width="1.2" opacity="0.7"/>
<path d="M150.4,8.9 A7.3,7.3 0 0 1 143.1,16.2" fill="none" stroke="#3a9a50" stroke-width="1.3"/>
<circle cx="143.1" cy="8.9" r="1.9" fill="#2a5ad0"/>
<path d="M143.6,9.5 V16.6" stroke="#18a018" stroke-width="1.3"/>
<path d="M162.6,8.3 L177.8,7.6 L177.8,12 L170.3,16.6 Z" fill="#f6e060" stroke="#c09010" stroke-width="0.8"/>
<ellipse cx="170" cy="5.8" rx="7.5" ry="2.6" fill="#58b4e8" stroke="#2a78b0" stroke-width="0.7"/>
<ellipse cx="169.5" cy="3.8" rx="3.8" ry="2.8" fill="#70c4f0" stroke="#2a78b0" stroke-width="0.7"/>
<circle cx="174.4" cy="12.7" r="3.9" fill="#d82010" stroke="#a01008" stroke-width="0.6"/>
<rect x="173" y="11.3" width="2.8" height="2.8" fill="#fff"/>
</g>
<g transform="translate(31,2)" fill="none" stroke="#000" stroke-width="1.2" shape-rendering="geometricPrecision" stroke-linecap="square">
<path d="M2.5,0.5 v1.3"/>
<path d="M0.3,2.3 h5"/>
<path d="M1.2,3.2 l0.6,1"/>
<path d="M4.3,3.2 l-0.6,1"/>
<path d="M0,5 h5.5"/>
<path d="M0.3,7.3 h5"/>
<path d="M2.8,5 v6.2"/>
<path d="M2.8,8 l-2.5,2.6"/>
<path d="M2.8,8 l2.2,2"/>
<path d="M10.6,0.6 l-3.4,1.6"/>
<path d="M7.2,2.2 v4.5 q0,3 -1.4,4.6"/>
<path d="M7.2,5.6 h4.5"/>
<path d="M9.8,5.6 v5.8"/>
</g>
<g transform="translate(43,2)" fill="none" stroke="#000" stroke-width="1.2" shape-rendering="geometricPrecision" stroke-linecap="square">
<path d="M1,0.6 l1,1"/>
<path d="M0.2,4.2 h1.6 v6 l1.5,-1.2"/>
<path d="M4.5,1.6 h7.2"/>
<path d="M8.6,1.6 v9.2 q0,0.8 -1.6,0.2"/>
</g>
<g transform="translate(55,2)" fill="none" stroke="#000" stroke-width="1.2" shape-rendering="geometricPrecision" stroke-linecap="square">
<path d="M3.5,0.2 l0.8,1.4"/>
<path d="M8.4,0.2 l-0.8,1.4"/>
<path d="M2.2,2.6 h7.6 v5 h-7.6 z"/>
<path d="M2.2,5.1 h7.6"/>
<path d="M6,2.6 v9"/>
<path d="M0.2,9.3 h11.6"/>
</g>
<g transform="translate(184,2)" fill="none" stroke="#000" stroke-width="1.2" shape-rendering="geometricPrecision" stroke-linecap="square">
<path d="M6.2,0 l-0.9,2"/>
<path d="M2.5,2.2 h7.2 v9.3 h-7.2 z"/>
<path d="M2.5,5.2 h7.2"/>
<path d="M2.5,8.2 h7.2"/>
</g>
<g transform="translate(196,2)" fill="none" stroke="#000" stroke-width="1.2" shape-rendering="geometricPrecision" stroke-linecap="square">
<path d="M1,1.6 h4"/>
<path d="M0.2,4.2 h5.4"/>
<path d="M3,4.2 l-2,5"/>
<path d="M1,9.2 l4,-0.6"/>
<path d="M4.2,7.2 l1,2.2"/>
<path d="M6.4,3.8 h4.8 v6.4 q0,1.2 -1.6,0.6"/>
<path d="M8.6,0.3 v5 q0,3.5 -2.6,5.8"/>
</g>
<g transform="translate(208,2)" fill="none" stroke="#000" stroke-width="1.2" shape-rendering="geometricPrecision" stroke-linecap="square">
<path d="M6,0 v1.5"/>
<path d="M0.4,2.2 h11.2"/>
<path d="M3.6,3.6 l-2.2,2"/>
<path d="M8.4,3.6 l2.2,2"/>
<path d="M3,6 l7.5,5.6"/>
<path d="M9,6 l-8,5.6"/>
</g>
<g transform="translate(220,2)" fill="none" stroke="#000" stroke-width="1.2" shape-rendering="geometricPrecision" stroke-linecap="square">
<path d="M3.2,0.6 h5.8 v5 h-5.8 z"/>
<path d="M3.2,3.1 h5.8"/>
<path d="M2.2,7 h8.6 v3.8 q0,0.8 -1.2,0.6"/>
<path d="M4,6 l-3.4,3.8"/>
<path d="M6.2,7.2 l-2.8,3.8"/>
<path d="M8.6,7.2 l-3,4.4"/>
</g>
<g shape-rendering="geometricPrecision">
<path d="M256.5,3.5 V17.0 M254.0,14.5 H267.5" stroke="#555" stroke-width="1.1" fill="none"/>
<path d="M254.7,5.300000000000001 L256.5,3.3000000000000007 L258.3,5.300000000000001" stroke="#555" stroke-width="1.1" fill="none"/>
<path d="M265.7,12.7 L267.7,14.5 L265.7,16.3" stroke="#555" stroke-width="1.1" fill="none"/>
<path d="M262.5,4.5 v7.5 h-2.5 M262.5,5.5 h2.5" stroke="#108a10" stroke-width="1.3" fill="none"/>
<path d="M284.5,3.5 V17.0 M282.0,14.5 H295.5" stroke="#555" stroke-width="1.1" fill="none"/>
<path d="M282.7,5.300000000000001 L284.5,3.3000000000000007 L286.3,5.300000000000001" stroke="#555" stroke-width="1.1" fill="none"/>
<path d="M293.7,12.7 L295.7,14.5 L293.7,16.3" stroke="#555" stroke-width="1.1" fill="none"/>
<rect x="288.5" y="3.5" width="4" height="7" fill="#20d040" stroke="#108a10" stroke-width="0.9"/><path d="M290.5,1 v2.5 M290.5,10.5 v2.5" stroke="#108a10" stroke-width="1"/>
<path d="M312.5,3.5 V17.0 M310.0,14.5 H323.5" stroke="#555" stroke-width="1.1" fill="none"/>
<path d="M310.7,5.300000000000001 L312.5,3.3000000000000007 L314.3,5.300000000000001" stroke="#555" stroke-width="1.1" fill="none"/>
<path d="M321.7,12.7 L323.7,14.5 L321.7,16.3" stroke="#555" stroke-width="1.1" fill="none"/>
<path d="M311.5,12 Q316.5,3 323.5,9.5" stroke="#20a020" stroke-width="1.2" fill="none"/>
<path d="M352,11 L357,15.8" stroke="#9a6a08" stroke-width="3.4" stroke-linecap="butt"/>
<path d="M352.2,11.2 L356.8,15.6" stroke="#f0d860" stroke-width="1.8"/>
<circle cx="348" cy="7" r="5.6" fill="#dff2fc" stroke="#3a7cc8" stroke-width="1.2"/>
<rect x="344.5" y="6" width="7" height="2" fill="#4a88a8"/>
<rect x="347" y="3.5" width="2" height="7" fill="#4a88a8"/>
<path d="M380,11 L385,15.8" stroke="#9a6a08" stroke-width="3.4" stroke-linecap="butt"/>
<path d="M380.2,11.2 L384.8,15.6" stroke="#f0d860" stroke-width="1.8"/>
<circle cx="376" cy="7" r="5.6" fill="#dff2fc" stroke="#3a7cc8" stroke-width="1.2"/>
<rect x="372.5" y="6" width="7" height="2" fill="#4a88a8"/>
<rect x="398.5" y="1" width="7.5" height="7.5" rx="0.6" fill="#30a020"/>
<rect x="399.8" y="3.8" width="5" height="3.2" fill="#fff"/>
<rect x="399.5" y="1.8" width="1" height="1" fill="#fff" opacity="0.7"/>
<rect x="406.5" y="1" width="7.5" height="7.5" rx="0.6" fill="#1a50d0"/>
<rect x="407.8" y="3.8" width="5" height="3.2" fill="#fff"/>
<rect x="407.5" y="1.8" width="1" height="1" fill="#fff" opacity="0.7"/>
<rect x="398.5" y="9" width="7.5" height="7.5" rx="0.6" fill="#1a50d0"/>
<rect x="399.8" y="11.8" width="5" height="3.2" fill="#fff"/>
<rect x="399.5" y="9.8" width="1" height="1" fill="#fff" opacity="0.7"/>
<rect x="406.5" y="9" width="7.5" height="7.5" rx="0.6" fill="#30a020"/>
<rect x="407.8" y="11.8" width="5" height="3.2" fill="#fff"/>
<rect x="407.5" y="9.8" width="1" height="1" fill="#fff" opacity="0.7"/>
<path d="M436.5,3.5 V17.0 M434.0,14.5 H447.5" stroke="#555" stroke-width="1.1" fill="none"/>
<path d="M434.7,5.300000000000001 L436.5,3.3000000000000007 L438.3,5.300000000000001" stroke="#555" stroke-width="1.1" fill="none"/>
<path d="M445.7,12.7 L447.7,14.5 L445.7,16.3" stroke="#555" stroke-width="1.1" fill="none"/>
<path d="M441.8,5.2 L445.2,8.5 L441.8,11.8 Z" fill="#6af06a" stroke="#109010" stroke-width="1"/>
<path d="M464.5,3.5 V17.0 M462.0,14.5 H475.5" stroke="#555" stroke-width="1.1" fill="none"/>
<path d="M462.7,5.300000000000001 L464.5,3.3000000000000007 L466.3,5.300000000000001" stroke="#555" stroke-width="1.1" fill="none"/>
<path d="M473.7,12.7 L475.7,14.5 L473.7,16.3" stroke="#555" stroke-width="1.1" fill="none"/>
<path d="M470.5,3.2 V12.5" stroke="#1a6aa0" stroke-width="1.2"/>
<path d="M471.2,8.5 L473.8,6.3 L473.8,10.7 Z" fill="#f06a10" stroke="#a02008" stroke-width="0.7"/><path d="M473.5,8.5 H476" stroke="#a02008" stroke-width="1"/>
<path d="M495.5,1.5 h8 l3,3 v10 h-11 z" fill="#fafafa" stroke="#6a6a6a" stroke-width="1"/>
<path d="M499,4 q-1,0 -1,2 v5" stroke="#555" stroke-width="0.8" fill="none"/>
<path d="M503.3,7.3 h3.4 v4.1 h4.1 v3.2 h-4.1 v4.1 h-3.4 v-4.1 h-4.1 v-3.2 h4.1 z" fill="url(#gplus)" stroke="#008a00" stroke-width="0.8"/>
<circle cx="541" cy="8.8" r="7.2" fill="#1a6ad8" stroke="#0a4aa8" stroke-width="0.8"/>
<circle cx="541" cy="8.8" r="5" fill="#f4f8fc"/>
<path d="M540.8,5 V9 H543.5" stroke="#333" stroke-width="1" fill="none"/>
<rect x="572.5" y="2.5" width="15" height="13" fill="#fff" stroke="#3a78c0" stroke-width="1"/>
<rect x="573" y="3" width="14" height="1.5" fill="#8ab8e8"/>
<path d="M573,9.2 H587" stroke="#3a78c0" stroke-width="1"/>
<path d="M574,7.5 L576.5,7 L578.5,6 L580.5,6.8 L582.5,6 L585.5,5.5" stroke="#b02010" stroke-width="1" fill="none"/>
<path d="M574,13 L576,12.5 L578.5,12.8 L580.5,11.5 L582.5,12.8 L585.5,13" stroke="#20a020" stroke-width="1" fill="none"/>
<path d="M517,8 h5.2 l-2.6,3.2 z" fill="#000"/>
<path d="M556,8 h5.2 l-2.6,3.2 z" fill="#000"/>
<path d="M595,8 h5.2 l-2.6,3.2 z" fill="#000"/>
<path d="M901,8 h5.2 l-2.6,3.2 z" fill="#000"/>
<path d="M624.2,2 L624.2,12.8 L626.9,10.3 L629.2,15.8 L630.8,15.1 L628.3,9.8 L632,9.6 Z" fill="#444"/>
<path d="M656.5,2 V7.6 M656.5,11.2 V17 M649,9.4 H655 M658,9.4 H664" stroke="#444" stroke-width="1.2"/>
<path d="M690.5,3 V16" stroke="#444" stroke-width="1.2"/>
<path d="M713,9.3 H725" stroke="#444" stroke-width="1.2"/>
<path d="M741,16 L753,4" stroke="#444" stroke-width="1.1"/>
<path d="M767,10.5 L774.5,3 M772,15.5 L781,7.5" stroke="#555" stroke-width="0.9"/>
<path d="M768.5,14.5 L769.5,9 L772,12.5 L772.5,6.5 L775,10 L776.5,4 L778.5,7" stroke="#333" stroke-width="1.2" fill="none"/>
</g>
<text x="778" y="18" font-family="Liberation Sans, sans-serif" font-weight="bold" font-size="7" fill="#333">E</text>
<rect x="796" y="2.0" width="1" height="1" fill="#333"/>
<rect x="798" y="2.0" width="1" height="1" fill="#333"/>
<rect x="800" y="2.0" width="1" height="1" fill="#333"/>
<rect x="802" y="2.0" width="1" height="1" fill="#333"/>
<rect x="804" y="2.0" width="1" height="1" fill="#333"/>
<rect x="806" y="2.0" width="1" height="1" fill="#333"/>
<rect x="808" y="2.0" width="1" height="1" fill="#333"/>
<rect x="796" y="5.0" width="1" height="1" fill="#333"/>
<rect x="798" y="5.0" width="1" height="1" fill="#333"/>
<rect x="800" y="5.0" width="1" height="1" fill="#333"/>
<rect x="802" y="5.0" width="1" height="1" fill="#333"/>
<rect x="804" y="5.0" width="1" height="1" fill="#333"/>
<rect x="806" y="5.0" width="1" height="1" fill="#333"/>
<rect x="808" y="5.0" width="1" height="1" fill="#333"/>
<rect x="796" y="9.0" width="1" height="1" fill="#333"/>
<rect x="798" y="9.0" width="1" height="1" fill="#333"/>
<rect x="800" y="9.0" width="1" height="1" fill="#333"/>
<rect x="802" y="9.0" width="1" height="1" fill="#333"/>
<rect x="804" y="9.0" width="1" height="1" fill="#333"/>
<rect x="806" y="9.0" width="1" height="1" fill="#333"/>
<rect x="808" y="9.0" width="1" height="1" fill="#333"/>
<rect x="796" y="13.0" width="1" height="1" fill="#333"/>
<rect x="798" y="13.0" width="1" height="1" fill="#333"/>
<rect x="800" y="13.0" width="1" height="1" fill="#333"/>
<rect x="802" y="13.0" width="1" height="1" fill="#333"/>
<rect x="804" y="13.0" width="1" height="1" fill="#333"/>
<text x="806" y="18" font-family="Liberation Sans, sans-serif" font-weight="bold" font-size="7" fill="#333">F</text>
<text transform="translate(826.6,13.6) scale(0.95,1)" font-family="Liberation Sans, sans-serif" font-size="11.5" fill="#444" stroke="#444" stroke-width="0.5">A</text>
<rect x="853.5" y="3.5" width="11" height="12" fill="none" stroke="#444" stroke-width="1" stroke-dasharray="1,1"/>
<rect x="852" y="2" width="2" height="2" fill="#444"/>
<path d="M855,6.5 H863 M859,6.5 V14" stroke="#444" stroke-width="1.4" shape-rendering="geometricPrecision"/>
<g shape-rendering="geometricPrecision">
<path d="M880,7 L883.5,3 L887,7 Z" fill="#444"/>
<path d="M882,10.5 L884,12.5 L888.5,7.5" stroke="#444" stroke-width="1.3" fill="none"/>
<path d="M887,12 L893.5,12 L890.3,16 Z" fill="#444"/>
</g>
<text x="926.2" y="13" textLength="14.6" lengthAdjust="spacingAndGlyphs" font-family="Liberation Sans, sans-serif" font-size="10" fill="#3a3a3a">M1</text>
<text x="954.2" y="13" textLength="14.6" lengthAdjust="spacingAndGlyphs" font-family="Liberation Sans, sans-serif" font-size="10" fill="#3a3a3a">M5</text>
<text x="981.2" y="13" textLength="18.6" lengthAdjust="spacingAndGlyphs" font-family="Liberation Sans, sans-serif" font-size="10" fill="#3a3a3a">M15</text>
<text x="1008.2" y="13" textLength="19.6" lengthAdjust="spacingAndGlyphs" font-family="Liberation Sans, sans-serif" font-size="10" fill="#3a3a3a">M30</text>
<text x="1039.2" y="13" textLength="13.6" lengthAdjust="spacingAndGlyphs" font-family="Liberation Sans, sans-serif" font-size="10" fill="#3a3a3a">H1</text>
<text x="1066.2" y="13" textLength="14.6" lengthAdjust="spacingAndGlyphs" font-family="Liberation Sans, sans-serif" font-size="10" fill="#3a3a3a">H4</text>
<text x="1095.2" y="13" textLength="13.6" lengthAdjust="spacingAndGlyphs" font-family="Liberation Sans, sans-serif" font-size="10" fill="#3a3a3a">D1</text>
<text x="1123.2" y="13" textLength="15.6" lengthAdjust="spacingAndGlyphs" font-family="Liberation Sans, sans-serif" font-size="10" fill="#3a3a3a">W1</text>
<text x="1149.2" y="13" textLength="16.6" lengthAdjust="spacingAndGlyphs" font-family="Liberation Sans, sans-serif" font-size="10" fill="#3a3a3a">MN</text>
<g shape-rendering="geometricPrecision">
<circle cx="1643.5" cy="6.3" r="3.6" fill="none" stroke="#2a62d0" stroke-width="1.6"/>
<path d="M1641,9 L1636.2,14" stroke="#2a62d0" stroke-width="2.2"/>
<path d="M1665,6.5 h5 q2.5,0 2.5,3 v3 q0,2.5 -2.5,2.5 h-4 l-2,2 v-2 q-2,0 -2,-2.5 v-3 q0,-3 3,-3 z" fill="#e4e6ee" stroke="#a8a8a8" stroke-width="0.9"/>
<circle cx="1674.3" cy="6.7" r="7.4" fill="url(#badge)"/>
</g>
<text x="1671.2" y="11" font-family="Liberation Serif, serif" font-size="11" fill="#fff">1</text>
</svg>
</body></html>
